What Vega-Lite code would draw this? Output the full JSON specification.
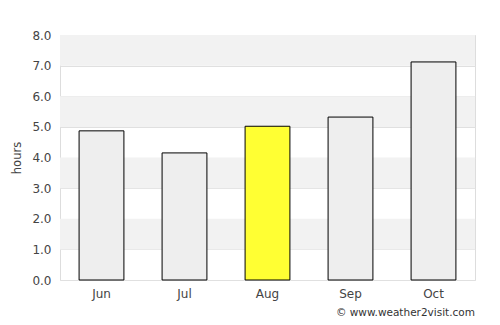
{
  "$schema": "https://vega.github.io/schema/vega-lite/v6.json",
  "width": 415,
  "height": 245,
  "autosize": {"type": "none"},
  "padding": {"left": 60, "top": 35, "right": 25, "bottom": 45},
  "background": "white",
  "config": {
    "font": "DejaVu Sans",
    "view": {"stroke": "#dddddd", "strokeWidth": 1},
    "axis": {"labelFont": "DejaVu Sans", "titleFont": "DejaVu Sans", "labelColor": "#444444", "titleColor": "#444444", "labelFontSize": 12, "titleFontSize": 11.5, "titleFontWeight": "normal"}
  },
  "title": {
    "text": "© www.weather2visit.com",
    "orient": "bottom",
    "anchor": "end",
    "font": "DejaVu Sans",
    "fontSize": 10.5,
    "fontWeight": "normal",
    "color": "#333333",
    "offset": 19,
    "baseline": "bottom"
  },
  "datasets": {
    "bars": [
      {"month": "Jun", "hours": 4.87},
      {"month": "Jul", "hours": 4.15},
      {"month": "Aug", "hours": 5.02},
      {"month": "Sep", "hours": 5.32},
      {"month": "Oct", "hours": 7.12}
    ],
    "bands": [
      {"lo": 1, "hi": 2},
      {"lo": 3, "hi": 4},
      {"lo": 5, "hi": 6},
      {"lo": 7, "hi": 8}
    ]
  },
  "layer": [
    {
      "data": {"name": "bands"},
      "mark": {"type": "rect", "color": "#f2f2f2"},
      "encoding": {
        "y": {
          "field": "lo", "type": "quantitative", "scale": {"domain": [0, 8]},
          "axis": {"title": "hours", "format": ".1f", "values": [0,1,2,3,4,5,6,7,8], "gridColor": "#e0e0e0", "domain": false, "ticks": false, "labelPadding": 9, "titlePadding": 9}
        },
        "y2": {"field": "hi"}
      }
    },
    {
      "data": {"name": "bars"},
      "mark": {"type": "bar", "stroke": "black", "strokeWidth": 1, "width": {"band": 0.54}},
      "encoding": {
        "x": {
          "field": "month", "type": "nominal", "sort": null,
          "scale": {"paddingInner": 0, "paddingOuter": 0},
          "axis": {"title": null, "labelAngle": 0, "domain": false, "ticks": false, "labelPadding": 8}
        },
        "y": {
          "field": "hours", "type": "quantitative",
          "scale": {"domain": [0, 8]},
          "axis": {"title": "hours", "format": ".1f", "values": [0,1,2,3,4,5,6,7,8], "gridColor": "#e0e0e0", "domain": false, "ticks": false, "labelPadding": 9, "titlePadding": 9}
        },
        "color": {
          "field": "month", "type": "nominal",
          "scale": {"domain": ["Jun", "Jul", "Aug", "Sep", "Oct"], "range": ["#eeeeee", "#eeeeee", "#ffff33", "#eeeeee", "#eeeeee"]},
          "legend": null
        }
      }
    }
  ]
}
